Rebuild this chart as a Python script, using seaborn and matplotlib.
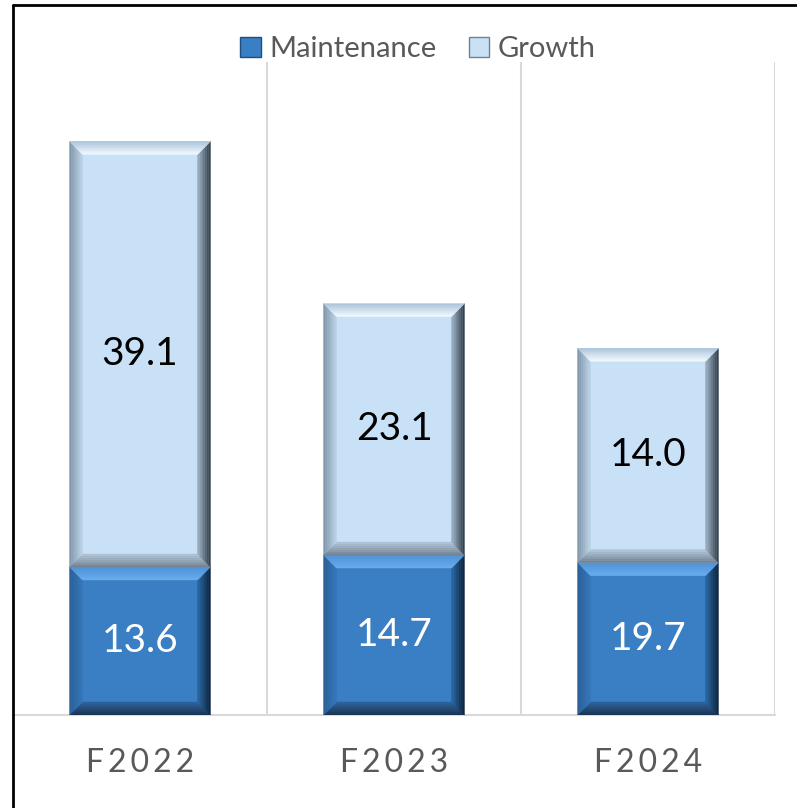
import numpy as np
import pandas as pd
import matplotlib
matplotlib.use("Agg")
import matplotlib.pyplot as plt
import seaborn as sns
from matplotlib.patches import Polygon, Patch
from matplotlib.lines import Line2D
from matplotlib.colors import to_rgb

# ---- data ----
years = ["F2022", "F2023", "F2024"]
maintenance = [13.6, 14.7, 14.0]          # drawn segment heights
growth = [39.1, 23.1, 19.7]               # drawn segment heights
maintenance_labels = ["13.6", "14.7", "19.7"]
growth_labels = ["39.1", "23.1", "14.0"]
tick_labels = ["F2022", "F2023", "F2024"]

C_MAINT = "#3A7FC3"
C_GROW = "#C9E1F7"

sns.set_theme(style="white")
plt.rcParams["font.family"] = ["Lato", "DejaVu Sans"]

W, H = 797, 808
fig = plt.figure(figsize=(W / 100, H / 100), dpi=100)
ax = fig.add_axes([13 / W, (H - 715) / H, (775 - 13) / W, (715 - 62) / H])

totals = [m + g for m, g in zip(maintenance, growth)]
df = pd.DataFrame({"year": years, "maintenance": maintenance, "total": totals})

sns.barplot(data=df, x="year", y="total", color=C_GROW, saturation=1,
            width=0.555, ax=ax, linewidth=0)
sns.barplot(data=df, x="year", y="maintenance", color=C_MAINT, saturation=1,
            width=0.555, ax=ax, linewidth=0)

ax.set_xlim(-0.5, 2.5)
ax.set_ylim(0, 60)

# pixel/data conversions
px_x = (2.5 - -0.5) / (775 - 13)
px_y = 60 / (715 - 62)


def mix(c1, c2, t):
    a, b = np.array(to_rgb(c1)), np.array(to_rgb(c2))
    return tuple(a + (b - a) * t)


def bevel(x0, x1, y0, y1, sides, depth=13, n=7):
    dx, dy = depth * px_x, depth * px_y
    for side, (c_out, c_in) in sides.items():
        for i in range(n):
            t0, t1 = i / n, (i + 1) / n
            col = mix(c_out, c_in, (i + 0.5) / n)
            if side == "top":
                pts = [(x0 + dx * t0, y1 - dy * t0), (x1 - dx * t0, y1 - dy * t0),
                       (x1 - dx * t1, y1 - dy * t1), (x0 + dx * t1, y1 - dy * t1)]
            elif side == "bottom":
                pts = [(x0 + dx * t0, y0 + dy * t0), (x1 - dx * t0, y0 + dy * t0),
                       (x1 - dx * t1, y0 + dy * t1), (x0 + dx * t1, y0 + dy * t1)]
            elif side == "left":
                pts = [(x0 + dx * t0, y0 + dy * t0), (x0 + dx * t0, y1 - dy * t0),
                       (x0 + dx * t1, y1 - dy * t1), (x0 + dx * t1, y0 + dy * t1)]
            else:
                pts = [(x1 - dx * t0, y0 + dy * t0), (x1 - dx * t0, y1 - dy * t0),
                       (x1 - dx * t1, y1 - dy * t1), (x1 - dx * t1, y0 + dy * t1)]
            ax.add_patch(Polygon(pts, closed=True, facecolor=col, edgecolor=col,
                                 linewidth=0.3, zorder=3))


n = len(years)
grow_patches = ax.patches[:n]
maint_patches = ax.patches[n:2 * n]

grow_sides = {"bottom": ("#6E7E8E", "#B3C7DA"), "left": ("#7D93A8", "#BCD3E8"),
              "right": ("#2E3A46", "#9FB3C6"), "top": ("#A9C2D9", "#F4FAFF")}
maint_sides = {"bottom": ("#16304D", "#2E64A0"), "left": ("#2A5F97", "#3677BA"),
               "right": ("#0E2135", "#2A68A6"), "top": ("#4F92D6", "#6AAEF0")}

for gp, mp, glab, mlab in zip(grow_patches, maint_patches, growth_labels, maintenance_labels):
    x0 = mp.get_x()
    x1 = x0 + mp.get_width()
    m_top = mp.get_height()
    g_top = gp.get_height()
    bevel(x0, x1, 0, m_top, maint_sides)
    bevel(x0, x1, m_top, g_top, grow_sides)
    xc = (x0 + x1) / 2
    ax.text(xc, (m_top + g_top) / 2, glab, ha="center", va="center",
            fontsize=28, color="black", zorder=5)
    ax.text(xc, m_top / 2, mlab, ha="center", va="center",
            fontsize=28, color="white", zorder=5)

# gridlines between categories
for xv in [0.5, 1.5, 2.5]:
    ax.axvline(xv, color="#D9D9D9", lw=1.5, zorder=0)
for s in ["left", "right", "top"]:
    ax.spines[s].set_visible(False)
ax.spines["bottom"].set_color("#D9D9D9")
ax.spines["bottom"].set_linewidth(1.5)
ax.set_yticks([])
ax.set_xlabel("")
ax.set_ylabel("")
ax.set_xticks(range(n))
spaced = ["\u2009".join(list(t)) for t in tick_labels]
ax.set_xticklabels(spaced, fontsize=23, color="#595959")
ax.tick_params(axis="x", length=0, pad=24)

# legend
handles = [Patch(facecolor=C_MAINT, edgecolor="#1F4E7E", linewidth=1.0),
           Patch(facecolor=C_GROW, edgecolor="#6F8293", linewidth=1.0)]
fig.legend(handles, ["Maintenance", "Growth"], loc="center",
           bbox_to_anchor=(418 / W, 1 - 49 / H), ncol=2, frameon=False,
           fontsize=21, labelcolor="#595959", handlelength=0.7, handleheight=0.7,
           handletextpad=0.3, columnspacing=1.1)

# figure border (top and left)
fig.add_artist(Line2D([13 / W, 1], [1 - 5 / H, 1 - 5 / H], color="black", lw=2,
                      transform=fig.transFigure))
fig.add_artist(Line2D([13 / W, 13 / W], [0, 1 - 5 / H], color="black", lw=2,
                      transform=fig.transFigure))

fig.savefig("out.png", dpi=100)
